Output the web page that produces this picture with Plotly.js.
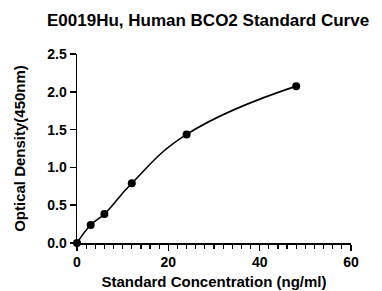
<!DOCTYPE html>
<html><head><meta charset="utf-8">
<script src="https://cdn.plot.ly/plotly-3.0.1.min.js"></script>
<style>html,body{margin:0;padding:0;background:#fff}#c{width:382px;height:291px}</style>
</head><body><div id="c"></div>
<script>
const concentration = [0, 3, 6, 12, 24, 48];
const od = [0, 0.238, 0.384, 0.79, 1.436, 2.075];
const xTicks = [0, 20, 40, 60];
const yTicks = [0, 0.5, 1.0, 1.5, 2.0, 2.5];
const yTickText = ['0.0', '0.5', '1.0', '1.5', '2.0', '2.5'];

const font = {family: 'Liberation Sans, Arial, sans-serif', color: '#000'};
const data = [
  {x: concentration, y: od, mode: 'lines', line: {color: '#000', width: 1.6, shape: 'spline', smoothing: 1.3}, hoverinfo: 'skip', cliponaxis: false},
  {x: concentration, y: od, mode: 'markers', marker: {color: '#000', size: 8}, cliponaxis: false}
];
const layout = {
  width: 382, height: 291,
  margin: {l: 77, r: 31, t: 54, b: 48},
  showlegend: false,
  paper_bgcolor: '#fff', plot_bgcolor: '#fff',
  title: {text: '<b>E0019Hu, Human BCO2 Standard Curve</b>', font: Object.assign({}, font, {size: 17}), xref: 'container', x: 0.123, xanchor: 'left', yref: 'container', y: 0.931, yanchor: 'middle'},
  xaxis: {
    range: [0, 60], tickvals: xTicks, ticktext: xTicks.map(v => '<b>' + v + '</b>'),
    ticks: 'outside', ticklen: 6, tickwidth: 1.5, tickcolor: '#000',
    minor: {dtick: 2, ticks: 'outside', ticklen: 4, tickwidth: 1.2, tickcolor: '#000'},
    showline: true, linecolor: '#000', linewidth: 1.5, showgrid: false, zeroline: false,
    tickfont: Object.assign({}, font, {size: 14}),
    title: {text: '<b>Standard Concentration (ng/ml)</b>', font: Object.assign({}, font, {size: 15}), standoff: 7}
  },
  yaxis: {
    range: [0, 2.5], tickvals: yTicks, ticktext: yTickText.map(v => '<b>' + v + '</b>'),
    ticks: 'outside', ticklen: 6, tickwidth: 1.5, tickcolor: '#000',
    showline: true, linecolor: '#000', linewidth: 1.5, showgrid: false, zeroline: false,
    tickfont: Object.assign({}, font, {size: 14}),
    title: {text: '<b>Optical Density(450nm)</b>', font: Object.assign({}, font, {size: 15}), standoff: 18}
  }
};
Plotly.newPlot('c', data, layout, {displayModeBar: false, staticPlot: true});
</script></body></html>
